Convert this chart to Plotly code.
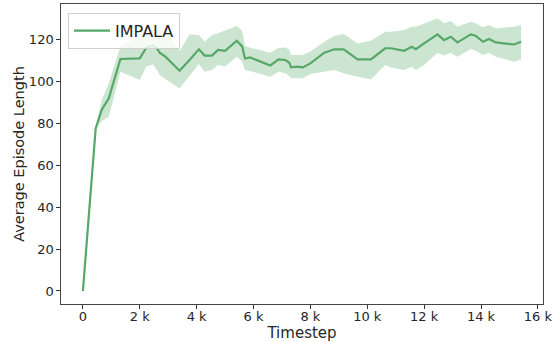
import plotly.graph_objects as go

# Timestep values (raw steps)
timesteps = [0, 450, 660, 910, 1320, 2000, 2230, 2470, 2620, 2700, 2900, 3400, 3750,
             4080, 4280, 4540, 4750, 5000, 5410, 5600, 5700, 5880, 6590, 6880, 7120,
             7260, 7320, 7550, 7730, 8000, 8490, 8840, 9170, 9660, 10130, 10630, 10830,
             11300, 11560, 11710, 12000, 12470, 12700, 12940, 13170, 13640, 13810,
             14070, 14280, 14520, 15160, 15410]
mean_len = [0, 77.5, 86.3, 91.8, 110.6, 110.9, 116, 117, 115.3, 113.6, 111.7, 105, 110.1,
            115.2, 112.2, 112.2, 114.9, 114.5, 119.3, 116.6, 110.8, 111.3, 107.5, 110.4, 110.1,
            108.8, 106.6, 106.9, 106.6, 108.5, 113.6, 115.2, 115.2, 110.4, 110.4, 115.7, 115.7,
            114.5, 116.4, 115.3, 118, 122.3, 119.6, 121.2, 118.5, 122.3, 121.7,
            118.8, 120.1, 118.5, 117.5, 118.8]
upper_len = [0, 77.5, 91, 99, 116.5, 121.5, 123, 124.5, 124.7, 124.5, 124.4, 114.5, 122.3,
             122, 118.8, 122, 122.8, 124, 126.3, 124, 116.8, 116, 113.6, 116, 116.1,
             115, 112.5, 112.5, 112.5, 114.1, 118.8, 121.5, 122.5, 118, 119.3, 123.6, 123.6,
             124.4, 126, 126, 127.6, 130, 127.6, 128.7, 126, 128.3, 127.6,
             125.7, 126.8, 125.2, 126, 126.8]
lower_len = [0, 77.5, 81, 83, 104.5, 100.6, 107, 108, 105, 103, 101, 96.6, 102.5,
             108.2, 104.5, 105.3, 107.7, 107, 111.7, 109.3, 105.3, 104.9, 102.1, 104.5, 103.8,
             102.5, 101.4, 101.4, 101.4, 103.4, 104.5, 105.3, 103.8, 102.1, 100.9, 107.7, 106.5,
             105.3, 106.9, 105.3, 107.7, 113.6, 112.2, 113.6, 111.7, 115.3, 114.5,
             112.5, 113.6, 111.7, 109.3, 110.4]

x_tick_vals = [0, 2000, 4000, 6000, 8000, 10000, 12000, 14000, 16000]
x_tick_text = ["0", "2 k", "4 k", "6 k", "8 k", "10 k", "12 k", "14 k", "16 k"]
y_tick_vals = [0, 20, 40, 60, 80, 100, 120]

GREEN = "#55a868"
FONT = "DejaVu Sans"
TXT = "#262626"

fig = go.Figure()
fig.add_trace(go.Scatter(x=timesteps, y=upper_len, mode="lines", line=dict(width=0),
                         showlegend=False, hoverinfo="skip"))
fig.add_trace(go.Scatter(x=timesteps, y=lower_len, mode="lines", line=dict(width=0),
                         fill="tonexty", fillcolor="rgba(85,168,104,0.3)",
                         showlegend=False, hoverinfo="skip"))
fig.add_trace(go.Scatter(x=timesteps, y=mean_len, mode="lines", name="IMPALA",
                         line=dict(color=GREEN, width=2.2)))

axis_common = dict(showgrid=False, zeroline=False, showline=True, linecolor="#444444",
                   linewidth=1.4, mirror=True, ticks="outside", ticklen=3.5,
                   tickcolor="#333333", tickfont=dict(family=FONT, size=13, color=TXT))

fig.update_layout(
    width=560, height=342,
    margin=dict(l=61, r=17, t=4, b=38),
    paper_bgcolor="white", plot_bgcolor="white",
    font=dict(family=FONT, color=TXT),
    xaxis=dict(range=[-770, 16180], tickvals=x_tick_vals, ticktext=x_tick_text,
               ticklabelstandoff=-3,
               title=dict(text="Timestep", font=dict(family=FONT, size=15, color=TXT),
                          standoff=0),
               **axis_common),
    yaxis=dict(range=[-6.2, 136.8], tickvals=y_tick_vals,
               title=dict(text="Average Episode Length",
                          font=dict(family=FONT, size=14.5, color=TXT), standoff=0),
               **axis_common),
    legend=dict(x=0.0145, y=0.971, xanchor="left", yanchor="top", itemwidth=36,
                bgcolor="rgba(255,255,255,0.8)", bordercolor="#d0d0d0", borderwidth=1,
                font=dict(family=FONT, size=16, color=TXT)),
)

fig.write_html("out.html")
